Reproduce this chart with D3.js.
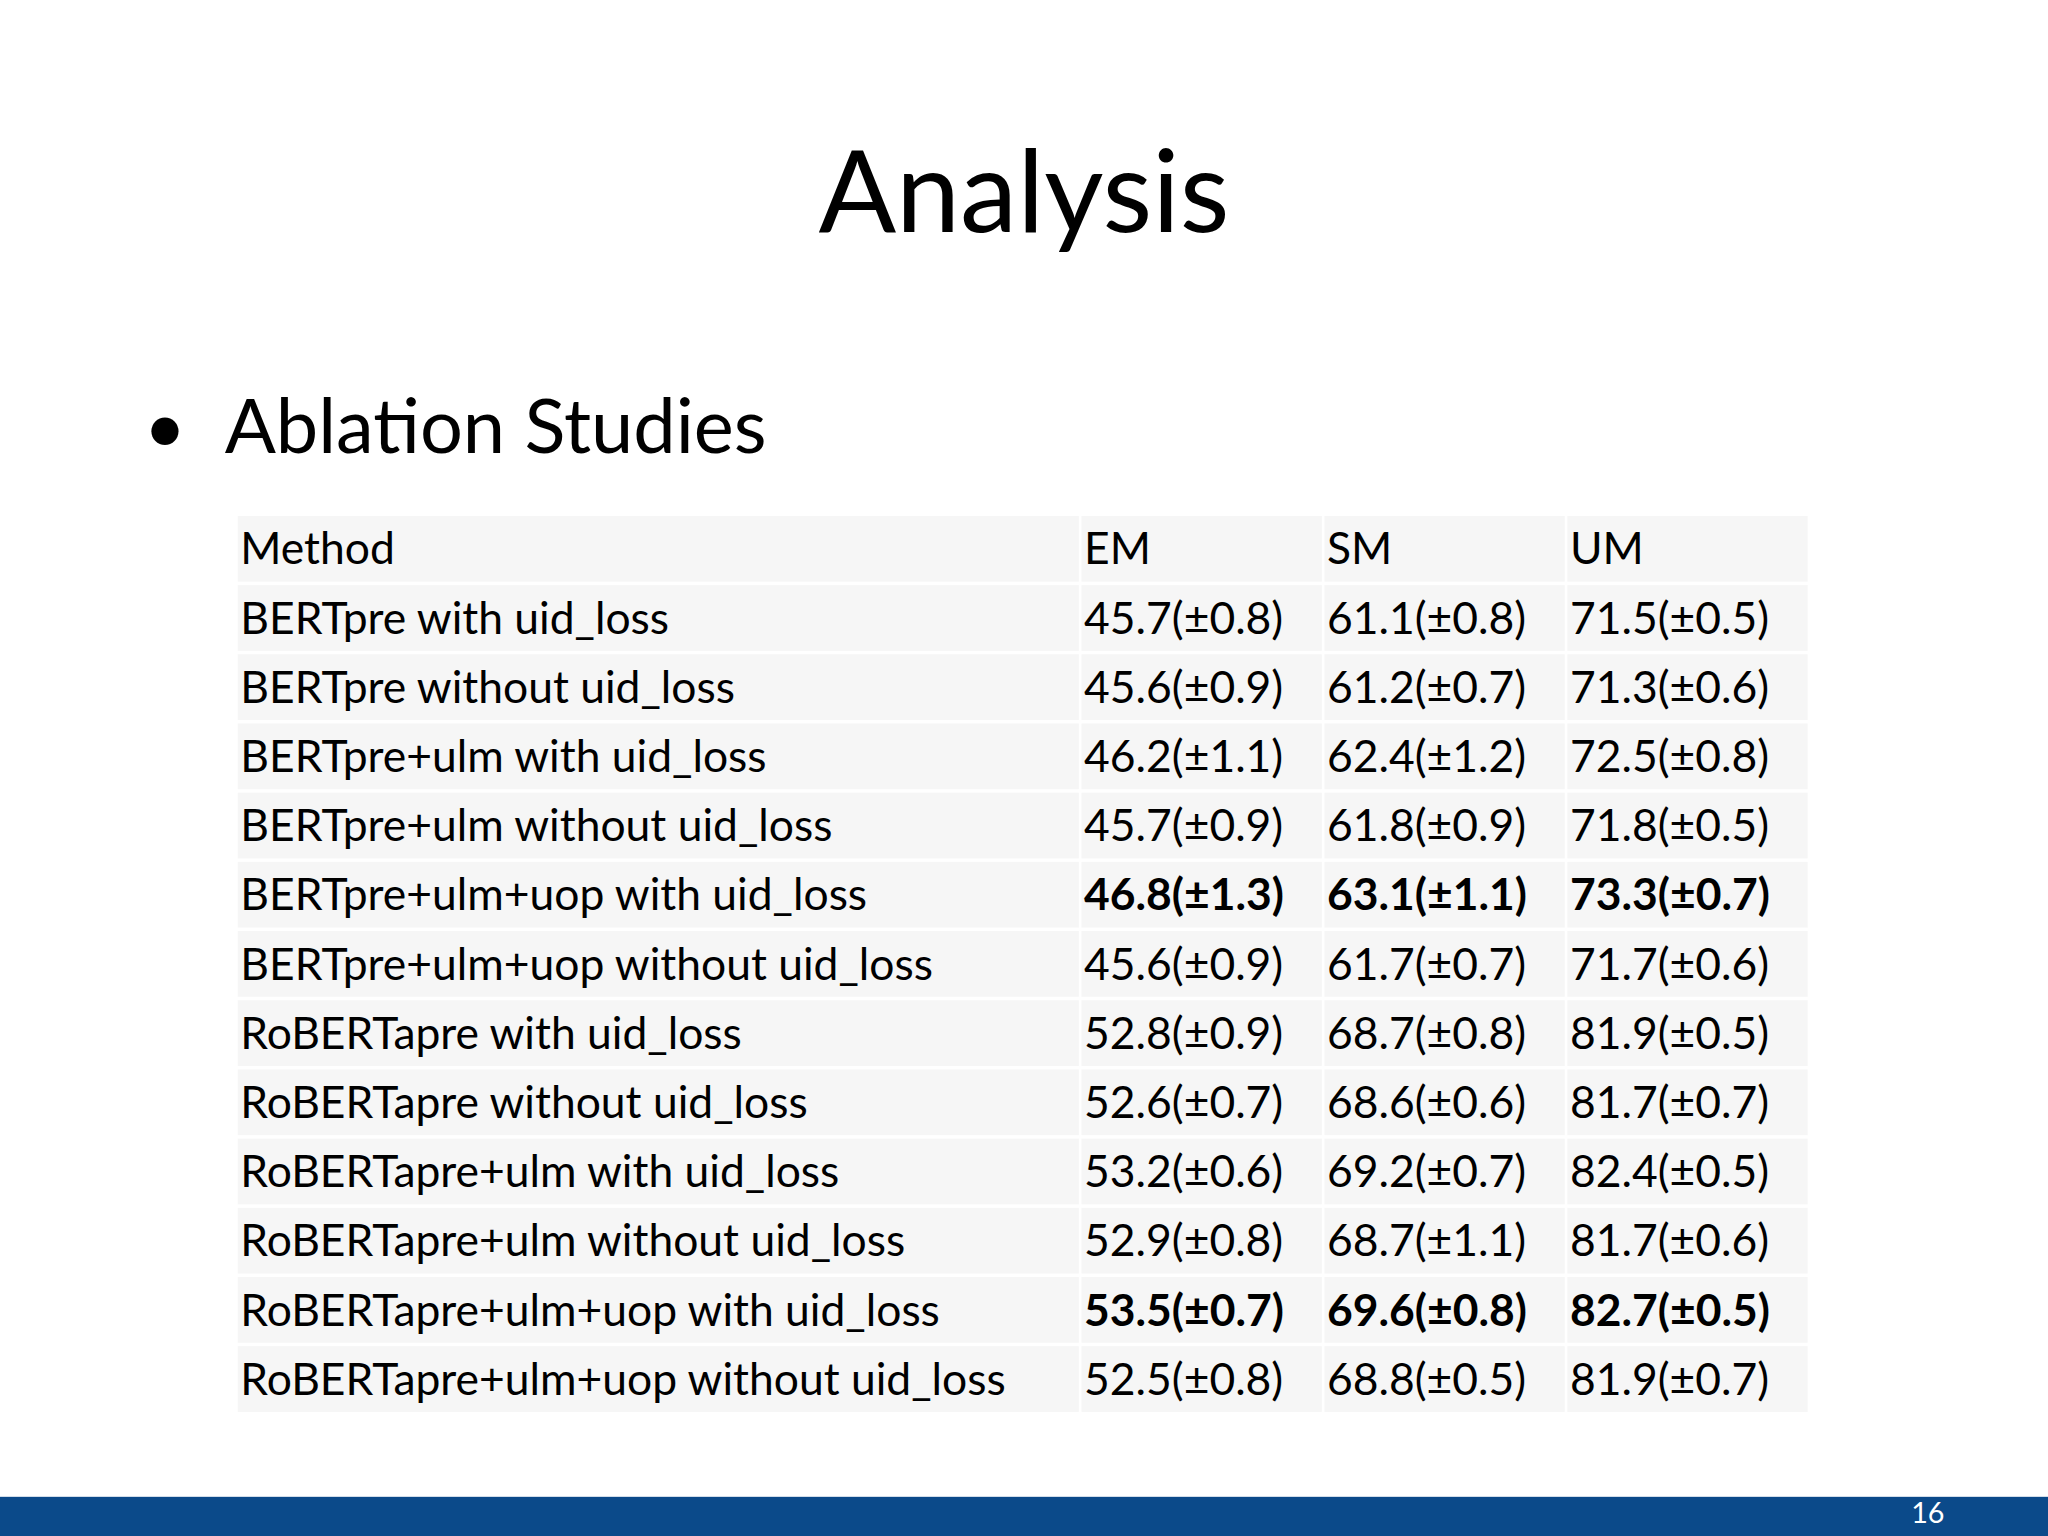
<!DOCTYPE html>
<html><head><meta charset="utf-8">
<script src="https://cdn.jsdelivr.net/npm/d3@7"></script>
<style>html,body{margin:0;padding:0;background:#fff}</style>
</head><body>
<script>
const columns = ["Method","EM","SM","UM"];
const methods = ["BERTpre with uid_loss","BERTpre without uid_loss","BERTpre+ulm with uid_loss","BERTpre+ulm without uid_loss","BERTpre+ulm+uop with uid_loss","BERTpre+ulm+uop without uid_loss","RoBERTapre with uid_loss","RoBERTapre without uid_loss","RoBERTapre+ulm with uid_loss","RoBERTapre+ulm without uid_loss","RoBERTapre+ulm+uop with uid_loss","RoBERTapre+ulm+uop without uid_loss"];
const em = ["45.7(±0.8)","45.6(±0.9)","46.2(±1.1)","45.7(±0.9)","46.8(±1.3)","45.6(±0.9)","52.8(±0.9)","52.6(±0.7)","53.2(±0.6)","52.9(±0.8)","53.5(±0.7)","52.5(±0.8)"];
const sm = ["61.1(±0.8)","61.2(±0.7)","62.4(±1.2)","61.8(±0.9)","63.1(±1.1)","61.7(±0.7)","68.7(±0.8)","68.6(±0.6)","69.2(±0.7)","68.7(±1.1)","69.6(±0.8)","68.8(±0.5)"];
const um = ["71.5(±0.5)","71.3(±0.6)","72.5(±0.8)","71.8(±0.5)","73.3(±0.7)","71.7(±0.6)","81.9(±0.5)","81.7(±0.7)","82.4(±0.5)","81.7(±0.6)","82.7(±0.5)","81.9(±0.7)"];
const boldRows = [4,10];
const pageNumber = "16";

const W=1568,H=1176;
const svg=d3.select("body").append("svg").attr("width",2048).attr("height",1536).attr("viewBox",`0 0 ${W} ${H}`);
const font="Lato, 'Open Sans', sans-serif";
svg.append("text").attr("x",784).attr("y",178).attr("text-anchor","middle").attr("font-family",font).attr("font-size",88).text("Analysis");
svg.append("text").attr("x",110).attr("y",347).attr("font-family",font).attr("font-size",56).text("•");
svg.append("text").attr("x",172).attr("y",347).attr("font-family",font).attr("font-size",58).text("Ablation Studies");

const rows=[columns].concat(methods.map((m,i)=>[m,em[i],sm[i],um[i]]));
const y=d3.scaleBand().domain(d3.range(rows.length)).range([395,1081]).paddingInner(0.05).paddingOuter(0);
const colEdges=[182,828,1014,1200,1386];
const x=d3.scaleOrdinal().domain(d3.range(4)).range(colEdges.slice(0,4));
const g=svg.append("g");
rows.forEach((r,ri)=>{
  r.forEach((c,ci)=>{
    g.append("rect").attr("x",x(ci)).attr("y",y(ri)).attr("width",colEdges[ci+1]-colEdges[ci]-2).attr("height",y.bandwidth()).attr("fill","#f6f6f6");
    g.append("text").attr("x",x(ci)+2).attr("y",y(ri)+y.bandwidth()/2+12)
      .attr("font-family",font).attr("font-size",34)
      .attr("font-weight",(ci>0&&boldRows.includes(ri-1))?"bold":"normal").attr("fill","#000").text(c);
  });
});
svg.append("rect").attr("x",0).attr("y",1146).attr("width",W).attr("height",30).attr("fill","#0b4a8a");
svg.append("text").attr("x",1476).attr("y",1166).attr("text-anchor","middle").attr("font-family",font).attr("font-size",22).attr("fill","#fff").text(pageNumber);
</script>
</body></html>
